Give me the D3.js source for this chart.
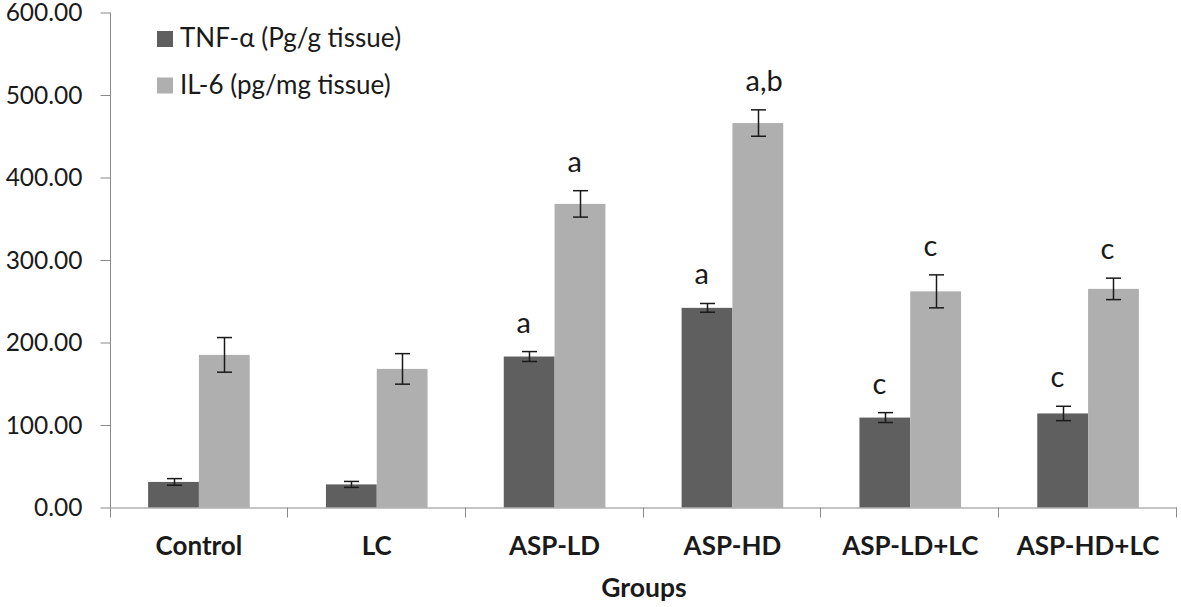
<!DOCTYPE html>
<html>
<head>
<meta charset="utf-8">
<script src="https://cdn.jsdelivr.net/npm/d3@7"></script>
<style>
  html, body { margin: 0; padding: 0; background: #fff; }
  svg { display: block; }
  text { font-family: Lato, "Open Sans", sans-serif; fill: #1a1a1a; }
</style>
</head>
<body>
<svg id="chart" width="1181" height="607"></svg>
<script>
// ---- data ----
const categories = ["Control", "LC", "ASP-LD", "ASP-HD", "ASP-LD+LC", "ASP-HD+LC"];
const seriesNames = ["TNF-\u03b1 (Pg/g tissue)", "IL-6 (pg/mg tissue)"];
const tnfValues = [31, 28, 183, 242, 109, 114];
const tnfErrors = [4, 3.6, 6, 5.3, 6, 8.7];
const il6Values = [185, 168, 368, 466, 262, 265];
const il6Errors = [21, 18.5, 16, 16, 20, 13];
const tnfLabels = ["", "", "a", "a", "c", "c"];
const il6Labels = ["", "", "a", "a,b", "c", "c"];
const yTicks = [0, 100, 200, 300, 400, 500, 600];
const xTitle = "Groups";

(function () {
// ---- layout ----
const svg = d3.select("#chart");
const pLeft = 110, pRight = 1177, pTop = 12.5, pBottom = 507.5;
const colors = ["#5f5f5f", "#afafaf"];
const axisColor = "#8a8a8a";

const y = d3.scaleLinear().domain([0, 600]).range([pBottom, pTop]);
const x = d3.scaleBand().domain(categories).range([pLeft, pRight]).paddingInner(0).paddingOuter(0);
const xs = d3.scaleBand().domain([0, 1]).range([0, x.bandwidth()]).paddingInner(0).paddingOuter(0.75);

const series = [
  { vals: tnfValues, errs: tnfErrors, labels: tnfLabels },
  { vals: il6Values, errs: il6Errors, labels: il6Labels }
];

// bars
series.forEach((s, si) => {
  const g = svg.append("g");
  g.selectAll("rect").data(categories).join("rect")
    .attr("x", (c) => x(c) + xs(si))
    .attr("y", (c, i) => y(s.vals[i]))
    .attr("width", xs.bandwidth())
    .attr("height", (c, i) => y(0) - y(s.vals[i]))
    .attr("fill", colors[si]);
});

// axes
const yAxis = d3.axisLeft(y).tickValues(yTicks).tickSize(10).tickSizeOuter(0).tickPadding(18)
  .tickFormat(d3.format(".2f"));
const yg = svg.append("g").attr("transform", `translate(${pLeft + 0.5},0)`).call(yAxis);
yg.select(".domain").remove();
yg.selectAll(".tick line").attr("stroke", axisColor);
yg.selectAll(".tick text").attr("font-size", 24.5).attr("fill", "#1a1a1a").attr("font-family", "Lato")
  .attr("dy", "0.34em");
svg.append("line").attr("x1", pLeft + 0.5).attr("x2", pLeft + 0.5).attr("y1", pTop).attr("y2", pBottom + 10)
  .attr("stroke", axisColor);
svg.append("line").attr("x1", pLeft).attr("x2", pRight).attr("y1", pBottom + 0.5).attr("y2", pBottom + 0.5)
  .attr("stroke", axisColor);
const boundaries = categories.map((c) => x(c) + x.bandwidth());
svg.append("g").selectAll("line").data(boundaries).join("line")
  .attr("x1", (d) => Math.round(d) - 0.5).attr("x2", (d) => Math.round(d) - 0.5)
  .attr("y1", pBottom).attr("y2", pBottom + 10).attr("stroke", axisColor);
svg.append("g").selectAll("text").data(categories).join("text")
  .attr("x", (c) => x(c) + x.bandwidth() / 2)
  .attr("y", 555)
  .attr("text-anchor", "middle")
  .attr("font-size", 26).attr("font-weight", "bold")
  .text((c) => c);
svg.append("text").attr("x", (pLeft + pRight) / 2 + 0.5).attr("y", 597).attr("text-anchor", "middle")
  .attr("font-size", 26.5).attr("font-weight", "bold").text(xTitle);

// error bars and significance letters
series.forEach((s, si) => {
  const g = svg.append("g");
  categories.forEach((c, i) => {
    const cx = Math.round(x(c) + xs(si) + xs.bandwidth() / 2) + 0.5;
    const yt = y(s.vals[i] + s.errs[i]);
    const yb = y(s.vals[i] - s.errs[i]);
    g.append("line").attr("x1", cx).attr("x2", cx).attr("y1", yt).attr("y2", yb)
      .attr("stroke", "#1a1a1a").attr("stroke-width", 1.5);
    [yt, yb].forEach((yy) => g.append("line").attr("x1", cx - 7.5).attr("x2", cx + 7.5)
      .attr("y1", yy).attr("y2", yy).attr("stroke", "#1a1a1a").attr("stroke-width", 1.5));
    if (s.labels[i]) {
      g.append("text").attr("x", cx - 13).attr("y", yt - 19).attr("text-anchor", "start")
        .attr("font-size", 29).text(s.labels[i]);
    }
  });
});

// legend
const lg = svg.append("g");
seriesNames.forEach((name, i) => {
  const yy = 31 + i * 46.5;
  lg.append("rect").attr("x", 157).attr("y", yy).attr("width", 16).attr("height", 16).attr("fill", colors[i]);
  lg.append("text").attr("x", 180).attr("y", yy + 16).attr("font-size", 26).text(name);
});
})();
</script>
</body>
</html>
